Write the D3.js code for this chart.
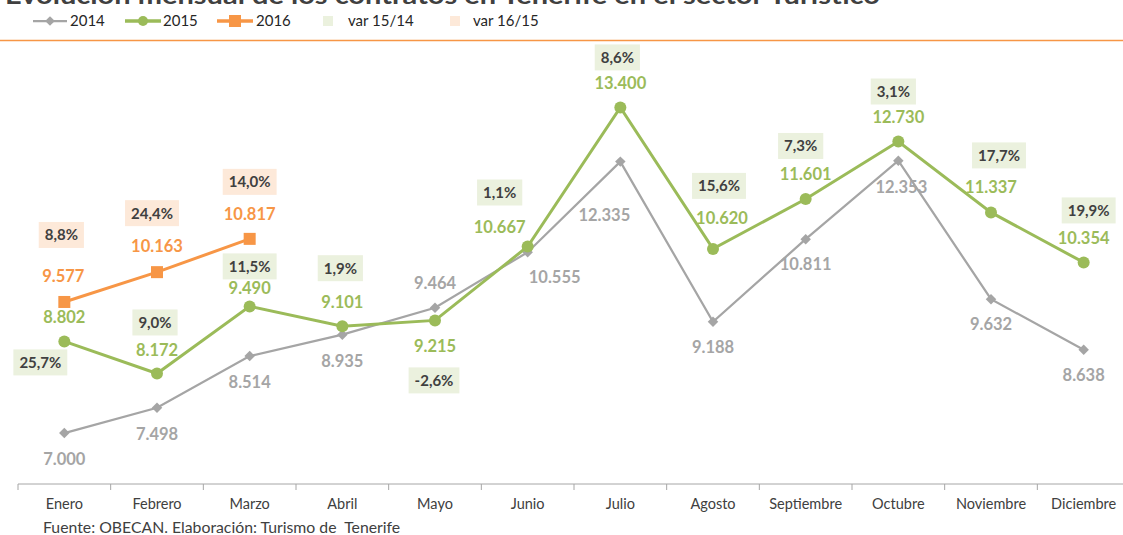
<!DOCTYPE html>
<html>
<head>
<meta charset="utf-8">
<script src="https://cdn.jsdelivr.net/npm/d3@7"></script>
<style>
  body { margin: 0; background: #fff; }
  svg { display: block; font-family: Lato, "Open Sans", sans-serif; }
</style>
</head>
<body>
<div id="main"></div>
<script>
/// Data ///
const months = ['Enero', 'Febrero', 'Marzo', 'Abril', 'Mayo', 'Junio', 'Julio',
                'Agosto', 'Septiembre', 'Octubre', 'Noviembre', 'Diciembre'];
const v2014 = [7000, 7498, 8514, 8935, 9464, 10555, 12335, 9188, 10811, 12353, 9632, 8638];
const v2015 = [8802, 8172, 9490, 9101, 9215, 10667, 13400, 10620, 11601, 12730, 11337, 10354];
const v2016 = [9577, 10163, 10817];
const var1514 = [25.7, 9.0, 11.5, 1.9, -2.6, 1.1, 8.6, 15.6, 7.3, 3.1, 17.7, 19.9];
const var1615 = [8.8, 24.4, 14.0];

/// Label placement (offset from the point, px) ///
const off2014 = [[0,26],[0,26],[0,26],[0,26],[0,-25],[27,25],[-16,53],[0,25],[0,25],[3,26],[0,25],[0,25]];
const off2015 = [[0,-24],[0,-23],[0,-18],[0,-24],[0,26],[-28,-19],[0,-24],[9,-31],[0,-25],[0,-24],[0,-25],[0,-24]];
const off2016 = [[-1,-26],[0,-26],[0,-25]];
const offVar1514 = [[-24,21],[-2,-51],[0,-40],[-2,-58],[-1,60],[-28,-54],[-3,-50],[6,-63],[-5,-53],[-5,-50],[8,-57],[5,-52]];
const offVar1615 = [[-3,-67],[-5,-59],[0,-57]];

const w = 1123, h = 535;
const grey = '#A5A5A5', green = '#9BBB59', orange = '#F79646';
const boxGreen = '#EBF1DE', boxPeach = '#FDE9D9', dark = '#404040';

const svg = d3.select('#main')
              .append('svg')
              .attr('width', w)
              .attr('height', h);

const x = d3.scaleBand()
            .domain(months)
            .range([18, 1130]);
const cx = m => x(m) + x.bandwidth() / 2;

const y = d3.scaleLinear()
            .domain([6000, 15000])
            .range([484, 26]);

const fmtNum = d3.formatLocale({decimal: ',', thousands: '.', grouping: [3], currency: ['', '€']}).format(',d');
const fmtPct = d => d.toFixed(1).replace('.', ',') + '%';

/// Title (cut at the top) and orange rule ///
svg.append('text')
   .attr('x', 5)
   .attr('y', 4)
   .attr('textLength', 875)
   .attr('lengthAdjust', 'spacingAndGlyphs')
   .style('font-size', '25px')
   .style('font-weight', 'bold')
   .style('fill', dark)
   .text('Evolución mensual de los contratos en Tenerife en el sector Turístico');

svg.append('line')
   .attr('x1', 0).attr('x2', w)
   .attr('y1', 40.5).attr('y2', 40.5)
   .style('stroke', orange)
   .style('stroke-width', 1.5);

/// Legend ///
const legend = svg.append('g').attr('transform', 'translate(0,21)');
const diamond = d3.symbol().type(d3.symbolDiamond2);
const lg = [
  {x0: 33, x1: 67, mk: 'diamond', color: grey, label: '2014', tx: 70},
  {x0: 125, x1: 161, mk: 'circle', color: green, label: '2015', tx: 163},
  {x0: 217, x1: 253, mk: 'square', color: orange, label: '2016', tx: 256}
];
lg.forEach(d => {
  legend.append('line')
        .attr('x1', d.x0).attr('x2', d.x1)
        .style('stroke', d.color).style('stroke-width', d.mk === 'diamond' ? 2.25 : 3.5);
  const mx = (d.x0 + d.x1) / 2;
  if (d.mk === 'diamond') {
    legend.append('path').attr('d', diamond.size(60)()).attr('transform', `translate(${mx},0)`).style('fill', d.color);
  } else if (d.mk === 'circle') {
    legend.append('circle').attr('cx', mx).attr('r', 5).style('fill', d.color);
  } else {
    legend.append('rect').attr('x', mx - 6).attr('y', -6).attr('width', 12).attr('height', 12).style('fill', d.color);
  }
  legend.append('text').attr('x', d.tx).attr('dy', '0.36em')
        .style('font-size', '15px').style('fill', '#262626').text(d.label);
});
[[323, boxGreen, 'var 15/14', 348], [450, boxPeach, 'var 16/15', 473]].forEach(d => {
  legend.append('rect').attr('x', d[0]).attr('y', -5).attr('width', 10).attr('height', 10).style('fill', d[1]);
  legend.append('text').attr('x', d[3]).attr('dy', '0.36em')
        .style('font-size', '15px').style('fill', '#262626').text(d[2]);
});

/// Axis ///
const axis = svg.append('g').attr('transform', 'translate(0,484)');
axis.append('line')
    .attr('x1', x.range()[0]).attr('x2', x.range()[1])
    .style('stroke', '#A6A6A6');
axis.selectAll('.tk')
    .data(months.map(m => x(m)).concat([x.range()[1]]))
    .enter()
    .append('line')
    .attr('class', 'tk')
    .attr('x1', d => d).attr('x2', d => d)
    .attr('y1', 0).attr('y2', 6)
    .style('stroke', '#A6A6A6');
axis.selectAll('.mlab')
    .data(months)
    .enter()
    .append('text')
    .attr('class', 'mlab')
    .attr('x', d => cx(d))
    .attr('y', 19.5)
    .attr('dy', '0.35em')
    .attr('text-anchor', 'middle')
    .style('font-size', '14.5px')
    .style('fill', dark)
    .text(d => d);

svg.append('text')
   .attr('x', 43).attr('y', 533)
   .attr('xml:space', 'preserve')
   .style('white-space', 'pre')
   .style('font-size', '15.8px')
   .style('fill', dark)
   .text('Fuente: OBECAN. Elaboración: Turismo de  Tenerife');

/// Lines ///
const line = d3.line().x(d => cx(d.m)).y(d => y(d.v));
const s2014 = v2014.map((v, i) => ({m: months[i], v: v}));
const s2015 = v2015.map((v, i) => ({m: months[i], v: v}));
const s2016 = v2016.map((v, i) => ({m: months[i], v: v}));

svg.append('path').datum(s2014).attr('d', line)
   .style('fill', 'none').style('stroke', grey).style('stroke-width', 2.25);
svg.selectAll('.d2014').data(s2014).enter().append('path')
   .attr('class', 'd2014')
   .attr('d', diamond.size(70)())
   .attr('transform', d => `translate(${cx(d.m)},${y(d.v)})`)
   .style('fill', grey);

svg.append('path').datum(s2015).attr('d', line)
   .style('fill', 'none').style('stroke', green).style('stroke-width', 3);
svg.selectAll('.c2015').data(s2015).enter().append('circle')
   .attr('class', 'c2015')
   .attr('cx', d => cx(d.m)).attr('cy', d => y(d.v)).attr('r', 6)
   .style('fill', green);

svg.append('path').datum(s2016).attr('d', line)
   .style('fill', 'none').style('stroke', orange).style('stroke-width', 3);
svg.selectAll('.s2016').data(s2016).enter().append('rect')
   .attr('class', 's2016')
   .attr('x', d => cx(d.m) - 6).attr('y', d => y(d.v) - 6)
   .attr('width', 12).attr('height', 12)
   .style('fill', orange);

/// Value labels ///
function valueLabels(series, offs, color) {
  svg.append('g').selectAll('text')
     .data(series)
     .enter()
     .append('text')
     .attr('x', (d, i) => cx(d.m) + offs[i][0])
     .attr('y', (d, i) => y(d.v) + offs[i][1])
     .attr('dy', '0.36em')
     .attr('text-anchor', 'middle')
     .style('font-size', '16.5px')
     .style('font-weight', 'bold')
     .style('fill', color)
     .text(d => fmtNum(d.v));
}
valueLabels(s2014, off2014, grey);
valueLabels(s2015, off2015, green);
valueLabels(s2016, off2016, orange);

/// Variation boxes ///
function varLabels(vals, base, offs, fill) {
  const g = svg.append('g').selectAll('g')
               .data(vals)
               .enter()
               .append('g')
               .attr('transform', (d, i) => `translate(${cx(months[i]) + offs[i][0]},${y(base[i]) + offs[i][1]})`);
  g.append('text')
   .attr('dy', '0.36em')
   .attr('text-anchor', 'middle')
   .style('font-size', '15px')
   .style('font-weight', 'bold')
   .style('fill', dark)
   .text(d => fmtPct(d));
  g.each(function() {
    const bb = d3.select(this).select('text').node().getBBox();
    d3.select(this).insert('rect', 'text')
      .attr('x', -bb.width / 2 - 6).attr('y', -13)
      .attr('width', bb.width + 12).attr('height', 26)
      .style('fill', fill);
  });
}
varLabels(var1514, v2015, offVar1514, boxGreen);
varLabels(var1615, v2016, offVar1615, boxPeach);
</script>
</body>
</html>
